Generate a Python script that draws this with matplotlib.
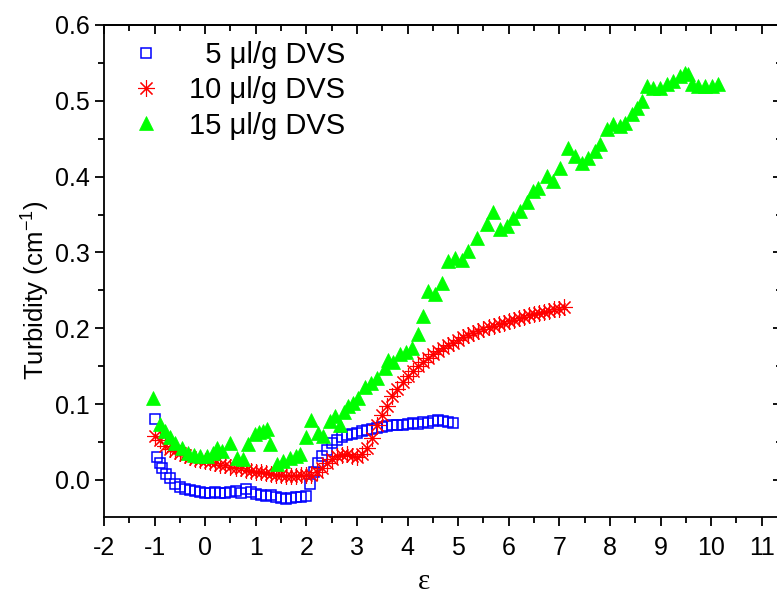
import matplotlib
matplotlib.use("Agg")
import matplotlib.pyplot as plt
from matplotlib.ticker import MultipleLocator

plt.rcParams['font.family'] = ['Liberation Sans', 'DejaVu Sans']
plt.rcParams['mathtext.fontset'] = 'custom'
plt.rcParams['mathtext.rm'] = 'Liberation Sans'
plt.rcParams['mathtext.it'] = 'Liberation Sans'

# ---- data ----
labels = ["  5 \u03bcl/g DVS", "10 \u03bcl/g DVS", "15 \u03bcl/g DVS"]

x5 = [-1.0, -0.95, -0.9, -0.85, -0.78, -0.7, -0.6, -0.5, -0.4, -0.3, -0.2, -0.1,
      0.0, 0.1, 0.2, 0.3, 0.4, 0.5, 0.6, 0.7, 0.8, 0.9, 1.0, 1.1, 1.2, 1.3, 1.4,
      1.5, 1.6, 1.7, 1.8, 1.9, 2.0, 2.08, 2.15, 2.22, 2.3, 2.4, 2.5, 2.6, 2.7,
      2.8, 2.9, 3.0, 3.1, 3.2, 3.3, 3.4, 3.5, 3.6, 3.7, 3.8, 3.9, 4.0, 4.1, 4.2,
      4.3, 4.4, 4.5, 4.6, 4.7, 4.8, 4.9]
y5 = [0.080, 0.030, 0.022, 0.016, 0.008, 0.002, -0.005, -0.009, -0.012, -0.013,
      -0.015, -0.016, -0.017, -0.018, -0.016, -0.017, -0.018, -0.016, -0.015,
      -0.017, -0.012, -0.016, -0.019, -0.020, -0.021, -0.020, -0.022, -0.024,
      -0.025, -0.024, -0.023, -0.023, -0.021, -0.005, 0.010, 0.022, 0.032, 0.040,
      0.048, 0.053, 0.057, 0.059, 0.061, 0.062, 0.064, 0.066, 0.067, 0.069,
      0.070, 0.071, 0.072, 0.073, 0.072, 0.074, 0.075, 0.074, 0.076, 0.075,
      0.078, 0.079, 0.077, 0.076, 0.075]

x10 = [-1.0, -0.9, -0.8, -0.7, -0.6, -0.5, -0.4, -0.3, -0.2, -0.1, 0.0, 0.1, 0.2,
       0.3, 0.4, 0.5, 0.6, 0.7, 0.8, 0.9, 1.0, 1.1, 1.2, 1.3, 1.4, 1.5, 1.6, 1.7,
       1.8, 1.9, 2.0, 2.1, 2.2, 2.3, 2.4, 2.5, 2.6, 2.7, 2.8, 2.9, 3.0, 3.1, 3.2,
       3.3, 3.4, 3.5, 3.6, 3.7, 3.8, 3.9, 4.0, 4.1, 4.2, 4.3, 4.4, 4.5, 4.6, 4.7,
       4.8, 4.9, 5.0, 5.1, 5.2, 5.3, 5.4, 5.5, 5.6, 5.7, 5.8, 5.9, 6.0, 6.1, 6.2,
       6.3, 6.4, 6.5, 6.6, 6.7, 6.8, 6.9, 7.0, 7.1]
y10 = [0.058, 0.052, 0.045, 0.041, 0.038, 0.035, 0.033, 0.030, 0.028, 0.026,
       0.025, 0.024, 0.022, 0.020, 0.019, 0.017, 0.016, 0.015, 0.013, 0.012,
       0.011, 0.010, 0.009, 0.008, 0.007, 0.006, 0.005, 0.005, 0.005, 0.006,
       0.006, 0.007, 0.010, 0.015, 0.022, 0.027, 0.031, 0.033, 0.034, 0.032,
       0.030, 0.034, 0.042, 0.055, 0.072, 0.086, 0.098, 0.110, 0.120, 0.129,
       0.137, 0.143, 0.150, 0.156, 0.161, 0.166, 0.170, 0.174, 0.178, 0.181,
       0.185, 0.188, 0.191, 0.194, 0.196, 0.199, 0.201, 0.203, 0.205, 0.207,
       0.209, 0.211, 0.213, 0.215, 0.217, 0.219, 0.220, 0.222, 0.223, 0.225,
       0.226, 0.228]

x15 = [-1.03, -0.89, -0.79, -0.70, -0.60, -0.46, -0.34, -0.22, -0.10, 0.04, 0.15,
       0.23, 0.34, 0.49, 0.63, 0.75, 0.85, 0.98, 1.06, 1.15, 1.22, 1.28, 1.42,
       1.54, 1.68, 1.80, 1.87, 2.00, 2.10, 2.23, 2.33, 2.47, 2.57, 2.66, 2.75,
       2.82, 2.92, 3.02, 3.16, 3.28, 3.40, 3.55, 3.61, 3.72, 3.85, 3.96, 4.08,
       4.20, 4.30, 4.40, 4.54, 4.68, 4.80, 4.94, 5.07, 5.20, 5.37, 5.57, 5.69,
       5.83, 5.96, 6.08, 6.22, 6.36, 6.48, 6.58, 6.75, 6.87, 7.01, 7.17, 7.31,
       7.45, 7.57, 7.70, 7.80, 7.94, 8.06, 8.20, 8.30, 8.43, 8.53, 8.63, 8.73,
       8.85, 8.99, 9.13, 9.25, 9.38, 9.48, 9.54, 9.62, 9.74, 9.88, 10.02, 10.13]
y15 = [0.108, 0.074, 0.065, 0.056, 0.049, 0.042, 0.036, 0.033, 0.031, 0.032,
       0.036, 0.042, 0.038, 0.049, 0.029, 0.028, 0.047, 0.060, 0.063, 0.065,
       0.067, 0.047, 0.021, 0.025, 0.029, 0.031, 0.034, 0.056, 0.079, 0.062,
       0.058, 0.078, 0.084, 0.072, 0.090, 0.098, 0.102, 0.108, 0.122, 0.128,
       0.134, 0.148, 0.158, 0.155, 0.166, 0.168, 0.174, 0.193, 0.216, 0.249,
       0.245, 0.260, 0.289, 0.292, 0.290, 0.302, 0.319, 0.338, 0.353, 0.331,
       0.335, 0.346, 0.355, 0.366, 0.381, 0.385, 0.401, 0.394, 0.412, 0.438,
       0.427, 0.418, 0.425, 0.434, 0.443, 0.463, 0.470, 0.467, 0.471, 0.483,
       0.491, 0.500, 0.520, 0.517, 0.517, 0.522, 0.526, 0.533, 0.537, 0.536,
       0.522, 0.520, 0.520, 0.520, 0.522]

xticks = list(range(-2, 12))
yticks = [0.0, 0.1, 0.2, 0.3, 0.4, 0.5, 0.6]

# ---- figure ----
W, H = 777, 596
L, R, T, B = 104, 782, 25, 517
fig = plt.figure(figsize=(W / 100, H / 100), dpi=100)
ax = fig.add_axes([L / W, 1 - B / H, (R - L) / W, (B - T) / H])

ax.plot(x5, y5, linestyle='none', marker='s', markersize=7.5,
        markerfacecolor='none', markeredgecolor='#0000FF', markeredgewidth=1.1,
        label=labels[0])
ax.plot(x10, y10, linestyle='none', marker=(8, 2, 0), markersize=12,
        markeredgecolor='#FF0000', markerfacecolor='#FF0000', markeredgewidth=0.8,
        label=labels[1])
ax.plot(x15, y15, linestyle='none', marker='^', markersize=10.5,
        markerfacecolor='#00FF00', markeredgecolor='#00FF00', markeredgewidth=0.5,
        label=labels[2])

ax.set_xlim(-2, 11.4)
ax.set_ylim(-0.049, 0.6)
ax.set_xticks(xticks)
ax.set_xticklabels([str(t) for t in xticks])
ax.set_yticks(yticks)
ax.set_yticklabels(["%.1f" % t for t in yticks])
ax.xaxis.set_minor_locator(MultipleLocator(0.5))
ax.yaxis.set_minor_locator(MultipleLocator(0.05))

for s in ax.spines.values():
    s.set_linewidth(1.3)

ax.tick_params(axis='x', which='major', direction='out', length=6.8, width=1.3,
               labelsize=18, pad=7, top=False)
ax.tick_params(axis='x', which='minor', direction='out', length=4, width=1.3, top=False)
ax.tick_params(axis='y', which='major', direction='out', length=6.5, width=1.3,
               labelsize=18, pad=4, right=False)
ax.tick_params(axis='y', which='minor', direction='out', length=4, width=1.3, right=False)

# top & right ticks pointing inward (no labels)
sec_x = ax.secondary_xaxis('top')
sec_x.set_xticks(xticks)
sec_x.xaxis.set_minor_locator(MultipleLocator(0.5))
sec_x.tick_params(axis='x', which='major', direction='in', length=6.5, width=1.3, labeltop=False)
sec_x.tick_params(axis='x', which='minor', direction='in', length=4, width=1.3)
sec_x.spines['top'].set_linewidth(1.3)
sec_y = ax.secondary_yaxis('right')
sec_y.set_yticks(yticks)
sec_y.yaxis.set_minor_locator(MultipleLocator(0.05))
sec_y.tick_params(axis='y', which='major', direction='in', length=6.5, width=1.3, labelright=False)
sec_y.tick_params(axis='y', which='minor', direction='in', length=4, width=1.3)

ax.set_xlabel('\u03b5', family=['Liberation Serif', 'DejaVu Serif'], fontsize=21)
ax.xaxis.label.set_va('baseline')
ax.xaxis.set_label_coords((424 - L) / (R - L), (B - 589) / (B - T))
ax.set_ylabel('Turbidity (cm$^{\\mathregular{-1}}$)', fontsize=18.5)
ax.yaxis.set_label_coords((52 - L) / (R - L), (B - 290) / (B - T))

leg = ax.legend(loc='upper left', frameon=False, fontsize=21, numpoints=1,
                borderaxespad=0.2, handletextpad=0.55, labelspacing=0.25,
                handlelength=1.8, borderpad=0.35)

fig.savefig('out.png', dpi=100)
